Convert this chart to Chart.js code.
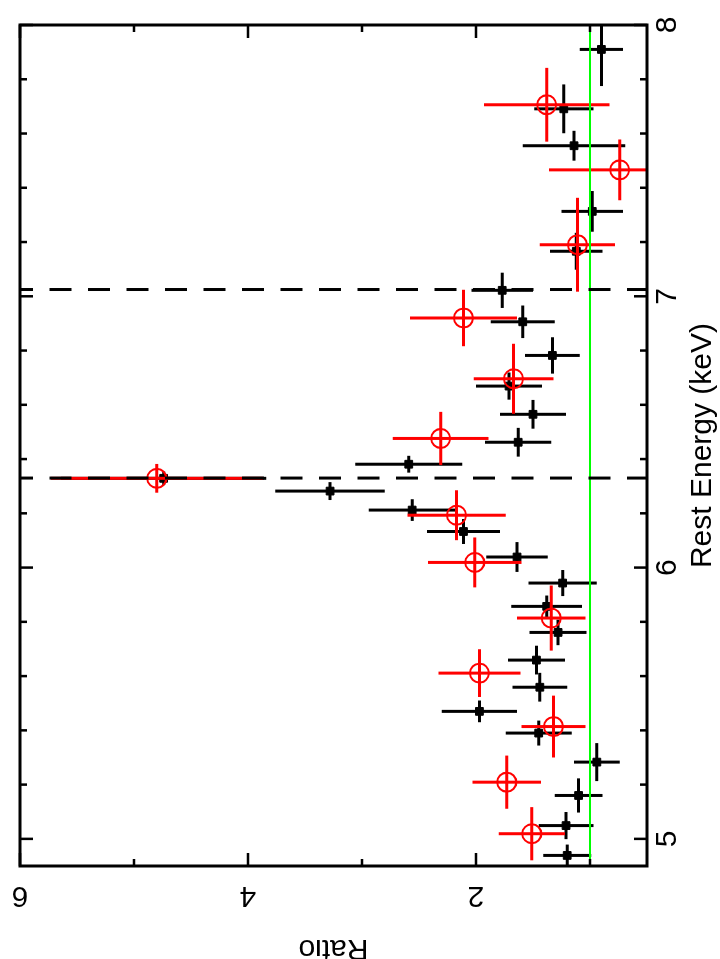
<!DOCTYPE html>
<html>
<head>
<meta charset="utf-8">
<script src="https://cdn.jsdelivr.net/npm/chart.js@4.4.0/dist/chart.umd.min.js"></script>
<style>
html, body { margin: 0; padding: 0; background: #fff; overflow: hidden; }
/* the plot is drawn in its normal orientation and then turned a quarter turn */
#turn { position: absolute; left: 0; top: 0; width: 959px; height: 720px;
  transform-origin: 0 0; transform: translate(0, 959px) rotate(-90deg); }
#ratioplot { display: block; }
</style>
</head>
<body>
<div id="turn"><canvas id="ratioplot" width="959" height="720"></canvas></div>
<script>
var energyTicks = [5, 6, 7, 8];
var ratioTicks = [2, 4, 6];

// black data (rest energy in keV, ratio)
var blackEnergy    = [4.939, 5.049, 5.160, 5.283, 5.390, 5.470, 5.559, 5.659, 5.761, 5.857, 5.943, 6.039, 6.133, 6.212,
                      6.282, 6.329, 6.381, 6.462, 6.565, 6.669, 6.782, 6.906, 7.022, 7.166, 7.313, 7.555, 7.691, 7.910];
var blackEnergyErr = [0.040, 0.050, 0.063, 0.070, 0.046, 0.040, 0.053, 0.053, 0.047, 0.040, 0.048, 0.055, 0.046, 0.040,
                      0.033, 0.025, 0.031, 0.053, 0.053, 0.050, 0.067, 0.060, 0.065, 0.068, 0.075, 0.055, 0.090, 0.135];
var blackRatio     = [1.20, 1.21, 1.10, 0.94, 1.45, 1.97, 1.44, 1.47, 1.28, 1.38, 1.24, 1.64, 2.11, 2.56,
                      3.28, 4.74, 2.59, 1.63, 1.50, 1.71, 1.33, 1.59, 1.77, 1.12, 0.98, 1.14, 1.23, 0.90];
var blackRatioErr  = [0.21, 0.24, 0.21, 0.20, 0.29, 0.33, 0.24, 0.25, 0.25, 0.31, 0.30, 0.27, 0.32, 0.38,
                      0.48, 0.90, 0.47, 0.29, 0.29, 0.29, 0.24, 0.28, 0.27, 0.23, 0.27, 0.45, 0.26, 0.19];

// red data
var redEnergy    = [5.019, 5.209, 5.414, 5.611, 5.814, 6.019, 6.193, 6.329, 6.476, 6.696, 6.920, 7.190, 7.466, 7.706];
var redEnergyErr = [0.098, 0.098, 0.114, 0.088, 0.120, 0.092, 0.092, 0.053, 0.098, 0.129, 0.104, 0.173, 0.112, 0.136];
var redRatio     = [1.51, 1.73, 1.32, 1.97, 1.34, 2.01, 2.17, 4.80, 2.31, 1.67, 2.11, 1.11, 0.74, 1.38];
var redRatioErr  = [0.29, 0.30, 0.28, 0.36, 0.30, 0.41, 0.43, 0.93, 0.42, 0.35, 0.47, 0.33, 0.62, 0.55];

var lineEnergies = [6.33, 7.025];
var continuumRatio = 1;

function points(en, ra) {
  return en.map(function (e, i) { return {x: e, y: ra[i]}; });
}

// error bars as short line pieces, split by empty points
function crosses(en, enErr, ra, raErr) {
  var out = [];
  for (var i = 0; i < en.length; i++) {
    out.push({x: en[i] - enErr[i], y: ra[i]}, {x: en[i] + enErr[i], y: ra[i]}, {x: null, y: null});
    out.push({x: en[i], y: ra[i] - raErr[i]}, {x: en[i], y: ra[i] + raErr[i]}, {x: null, y: null});
  }
  return out;
}

var datasets = [];

lineEnergies.forEach(function (e) {
  datasets.push({
    type: "line", data: [{x: e, y: 6}, {x: e, y: 0.5}], order: 0,
    borderColor: "#000", borderWidth: 3, borderDash: [22, 16.5], borderDashOffset: 9,
    pointRadius: 0, fill: false
  });
});

datasets.push({
  type: "line", data: [{x: 4.9, y: continuumRatio}, {x: 8, y: continuumRatio}], order: 1,
  borderColor: "#00ff00", borderWidth: 2, pointRadius: 0, fill: false
});

datasets.push({
  type: "scatter", data: points(redEnergy, redRatio), order: 2,
  pointStyle: "circle", pointRadius: 9.5, borderWidth: 2,
  borderColor: "#ff0000", backgroundColor: "rgba(0,0,0,0)"
});
datasets.push({
  type: "line", data: crosses(redEnergy, redEnergyErr, redRatio, redRatioErr), order: 3,
  borderColor: "#ff0000", borderWidth: 3, pointRadius: 0, spanGaps: false, fill: false
});

datasets.push({
  type: "scatter", data: points(blackEnergy, blackRatio), order: 4,
  pointStyle: "rect", pointRadius: 5.5, borderWidth: 1,
  borderColor: "#000", backgroundColor: "#000"
});
datasets.push({
  type: "line", data: crosses(blackEnergy, blackEnergyErr, blackRatio, blackRatioErr), order: 5,
  borderColor: "#000", borderWidth: 3, pointRadius: 0, spanGaps: false, fill: false
});

// box round the plot with inward ticks on all four sides
var framePlugin = {
  id: "frame",
  afterDatasetsDraw: function (chart) {
    var ctx = chart.ctx, a = chart.chartArea;
    var xs = chart.scales.x, ys = chart.scales.y;
    ctx.save();
    ctx.strokeStyle = "#000";
    ctx.lineWidth = 2.5;
    ctx.beginPath();
    for (var k = 25; k <= 40; k++) {
      var px = xs.getPixelForValue(k / 5);
      var len = (k % 5 === 0) ? 13 : 7;
      ctx.moveTo(px, a.top); ctx.lineTo(px, a.top + len);
      ctx.moveTo(px, a.bottom); ctx.lineTo(px, a.bottom - len);
    }
    for (var r = 1; r <= 6; r++) {
      var py = ys.getPixelForValue(r);
      var l2 = (r % 2 === 0) ? 13 : 7;
      ctx.moveTo(a.left, py); ctx.lineTo(a.left + l2, py);
      ctx.moveTo(a.right, py); ctx.lineTo(a.right - l2, py);
    }
    ctx.stroke();
    ctx.lineWidth = 3;
    ctx.strokeRect(a.left, a.top, a.right - a.left, a.bottom - a.top);
    ctx.restore();
  }
};

function noPad(s) {
  s.paddingLeft = 0; s.paddingRight = 0; s.paddingTop = 0; s.paddingBottom = 0;
}

Chart.defaults.font.family = "'Liberation Sans', Arial, sans-serif";
Chart.defaults.color = "#000";

var config = {
  type: "scatter",
  data: {datasets: datasets},
  options: {
    responsive: false,
    animation: false,
    devicePixelRatio: 1,
    layout: {padding: {top: 20, right: 25, bottom: 0, left: 0}},
    plugins: {legend: {display: false}, tooltip: {enabled: false}},
    scales: {
      x: {
        type: "linear", position: "bottom", min: 4.9, max: 8,
        grid: {display: false, drawTicks: false}, border: {display: false},
        afterBuildTicks: function (s) { s.ticks = energyTicks.map(function (v) { return {value: v}; }); },
        afterFit: function (s) { s.height = 73; noPad(s); },
        ticks: {
          color: "#000", font: {size: 30, lineHeight: 1.2}, padding: 2.5,
          minRotation: 0, maxRotation: 0, autoSkip: false,
          callback: function (v) { return String(v); }
        },
        title: {display: true, text: "Rest Energy (keV)", color: "#000",
          font: {size: 30, lineHeight: 0.7}, padding: {top: 0, bottom: 7}}
      },
      y: {
        type: "linear", position: "left", min: 0.5, max: 6,
        grid: {display: false, drawTicks: false}, border: {display: false},
        afterBuildTicks: function (s) { s.ticks = ratioTicks.map(function (v) { return {value: v}; }); },
        afterFit: function (s) { s.width = 93; noPad(s); },
        ticks: {
          color: "#000", font: {size: 30, lineHeight: 1.2}, padding: 21,
          minRotation: 90, maxRotation: 90, crossAlign: "center", autoSkip: false,
          callback: function (v) { return String(v); }
        },
        title: {display: true, text: "Ratio", color: "#000",
          font: {size: 30, lineHeight: 0.7}, padding: {top: 0, bottom: 0}}
      }
    }
  },
  plugins: [framePlugin]
};

var ratioChart = new Chart(document.getElementById("ratioplot"), config);
</script>
</body>
</html>
